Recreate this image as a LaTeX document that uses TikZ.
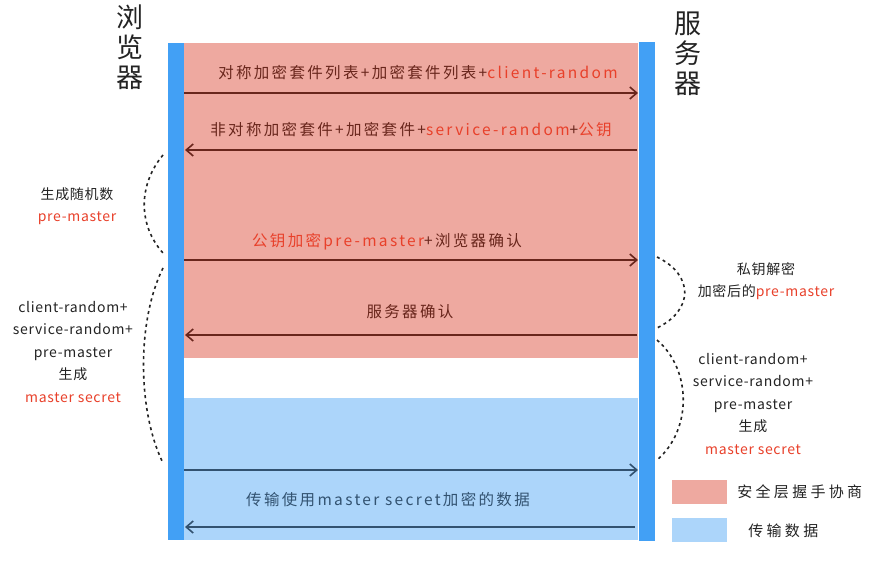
\documentclass[tikz,border=0pt]{standalone}
\usepackage{fontspec}
\setmainfont{Noto Sans CJK SC}
\usetikzlibrary{arrows.meta,positioning}
\definecolor{barblue}{RGB}{66,160,245}
\definecolor{shakepink}{RGB}{238,169,160}
\definecolor{datablue}{RGB}{172,213,250}
\definecolor{inkred}{RGB}{105,38,28}
\definecolor{inkblue}{RGB}{50,82,112}
\definecolor{hotred}{RGB}{232,64,42}
\definecolor{ink}{RGB}{35,35,35}

\begin{document}
\begin{tikzpicture}[x=1pt, y=-1pt,
    bar/.style={fill=barblue, inner sep=0pt, minimum width=16pt, anchor=north west},
    zone/.style={inner sep=0pt, minimum width=454pt, anchor=north west},
    swatch/.style={inner sep=0pt, minimum width=55pt, minimum height=24pt},
    header/.style={align=center, inner sep=0pt, text=ink, font=\fontsize{27}{30}\selectfont},
    msg/.style={inner sep=0pt, text=inkred, font=\fontsize{15.5}{18}\selectfont\addfontfeature{LetterSpace=15}},
    side/.style={align=center, inner sep=0pt, text=ink, font=\fontsize{14}{22.5}\selectfont\addfontfeature{LetterSpace=5}},
    legendtext/.style={inner sep=0pt, text=ink, font=\fontsize{15}{18}\selectfont\addfontfeature{LetterSpace=22}},
    arrow/.style={-{Straight Barb[length=7pt, width=12pt]}, line width=1.6pt, draw=inkred},
    dataarrow/.style={arrow, draw=inkblue},
    brace/.style={draw=ink, line width=1.6pt, dash pattern=on 3pt off 3.5pt}
  ]
    \useasboundingbox (0,0) rectangle (875,561);
    % shaded phases
    \node[zone, fill=shakepink, minimum height=315pt] (handshake) at (184,43) {};
    \node[zone, fill=datablue, minimum height=142pt] (transfer) at (184,398) {};
    % the two parties
    \node[bar, minimum height=497pt] (lbar) at (168,43) {};
    \node[bar, minimum height=499pt] (rbar) at (639,42) {};
    \node[header] (browser) at (130,47) {浏\\览\\器};
    \node[header] (server) at (688,54) {服\\务\\器};
    % messages
    \node[msg] (hello) at (418,73) {对称加密套件列表+加密套件列表+\textcolor{hotred}{client-random}};
    \node[msg] (reply) at (411,130) {非对称加密套件+加密套件+\textcolor{hotred}{service-random}+\textcolor{hotred}{公钥}};
    \node[msg] (keyx) at (387,242) {\textcolor{hotred}{公钥加密pre-master}+浏览器确认};
    \node[msg] (ack) at (410,312) {服务器确认};
    \node[msg, text=inkblue] (payload) at (388,500) {传输使用master secret加密的数据};
    \coordinate (b1) at (184,93);  \coordinate (s1) at (638,93);
    \coordinate (b2) at (185,150); \coordinate (s2) at (637,150);
    \coordinate (b3) at (184,260); \coordinate (s3) at (638,260);
    \coordinate (b4) at (185,335); \coordinate (s4) at (637,335);
    \coordinate (b5) at (184,470); \coordinate (s5) at (638,470);
    \coordinate (b6) at (185,527); \coordinate (s6) at (635,527);
    \draw[arrow] (b1) -- (s1);
    \draw[arrow] (s2) -- (b2);
    \draw[arrow] (b3) -- (s3);
    \draw[arrow] (s4) -- (b4);
    \draw[dataarrow] (b5) -- (s5);
    \draw[dataarrow] (s6) -- (b6);
    % what each side does
    \node[side] (premaster) at (77,206) {生成随机数\\\textcolor{hotred}{pre-master}};
    \node[side] (bsecret) at (73,352) {client-random+\\service-random+\\pre-master\\生成\\\textcolor{hotred}{master secret}};
    \node[side] (decrypt) at (766,281) {私钥解密\\加密后的\textcolor{hotred}{pre-master}};
    \node[side] (ssecret) at (753,404) {client-random+\\service-random+\\pre-master\\生成\\\textcolor{hotred}{master secret}};
    \coordinate (l1a) at (163,155); \coordinate (l1b) at (163,253);
    \coordinate (l2a) at (163,268); \coordinate (l2b) at (163,463);
    \coordinate (r1a) at (657,257); \coordinate (r1b) at (657,328);
    \coordinate (r2a) at (657,340); \coordinate (r2b) at (657,460);
    \draw[brace] (l1a) .. controls (138,185) and (138,225) .. (l1b);
    \draw[brace] (l2a) .. controls (137,320) and (137,410) .. (l2b);
    \draw[brace] (r1a) .. controls (694,275) and (694,310) .. (r1b);
    \draw[brace] (r2a) .. controls (692,370) and (692,430) .. (r2b);
    % legend
    \node[swatch, fill=shakepink] (keyswatch) at (699.5,492) {};
    \node[swatch, fill=datablue, below=14pt of keyswatch] (dataswatch) {};
    \node[legendtext, right=10pt of keyswatch] (keylabel) {安全层握手协商};
    \node[legendtext, right=21pt of dataswatch] (datalabel) {传输数据};
  \end{tikzpicture}
\end{document}
